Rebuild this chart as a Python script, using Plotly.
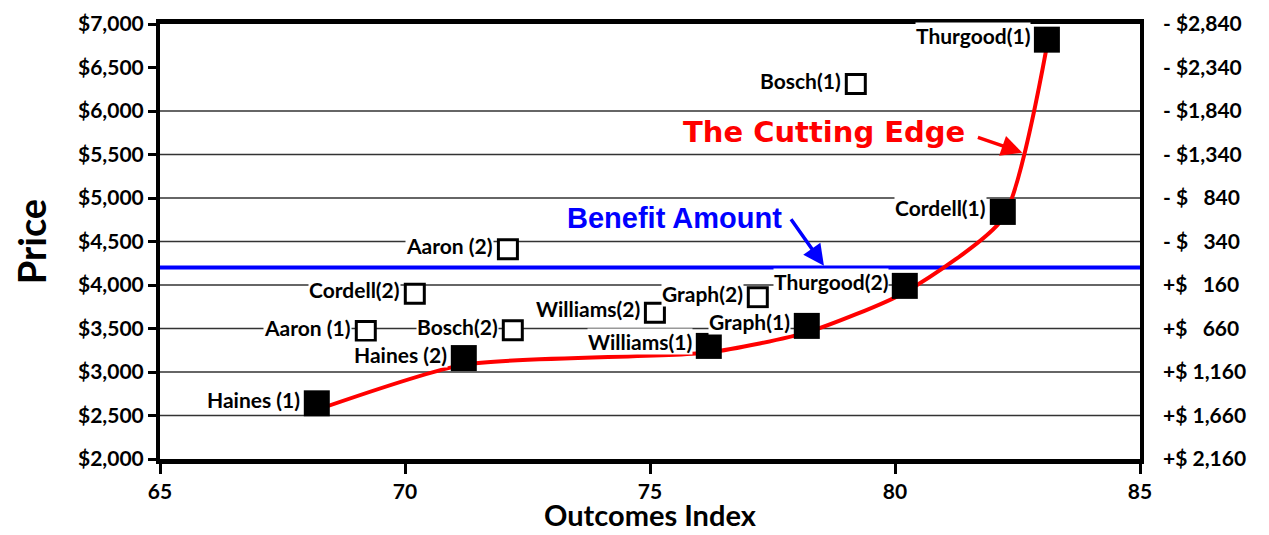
import plotly.graph_objects as go

# ---- data ----
filled_names = ["Haines (1)", "Haines (2)", "Williams(1)", "Graph(1)", "Thurgood(2)", "Cordell(1)", "Thurgood(1)"]
filled_x = [68.2, 71.2, 76.2, 78.2, 80.2, 82.2, 83.1]
filled_y = [2640, 3160, 3300, 3530, 3990, 4840, 6820]

open_names = ["Aaron (1)", "Cordell(2)", "Aaron (2)", "Bosch(2)", "Williams(2)", "Graph(2)", "Bosch(1)"]
open_x = [69.2, 70.2, 72.1, 72.2, 75.1, 77.2, 79.2]
open_y = [3470, 3900, 4410, 3480, 3680, 3860, 6310]

benefit_amount = 4200
left_ticks = [2000, 2500, 3000, 3500, 4000, 4500, 5000, 5500, 6000, 6500, 7000]
left_tick_text = ["$2,000", "$2,500", "$3,000", "$3,500", "$4,000", "$4,500",
                  "$5,000", "$5,500", "$6,000", "$6,500", "$7,000"]
right_tick_text = ["+$\u00a02,160", "+$\u00a01,660", "+$\u00a01,160", "+$\u00a0\u00a0\u00a0660", "+$\u00a0\u00a0\u00a0160",
                   "-\u00a0$\u00a0\u00a0\u00a0340", "-\u00a0$\u00a0\u00a0\u00a0840", "-\u00a0$1,340", "-\u00a0$1,840",
                   "-\u00a0$2,340", "-\u00a0$2,840"]
grid_values = [2500, 3000, 3500, 4000, 4500, 5000, 5500, 6000]
x_ticks = [65, 70, 75, 80, 85]

Y_RANGE = [2000, 7000]
# style: the hand-drawn red curve sits slightly below the marker centres;
# it is drawn on a hidden overlaying axis whose range is nudged by this amount
CURVE_NUDGE = 75

LABEL_FONT = dict(family="Lato", size=21, color="black", weight="bold")
TICK_FONT = dict(family="Lato", size=21, color="black", weight="bold")

fig = go.Figure()

# benefit line
fig.add_trace(go.Scatter(x=[65, 85], y=[benefit_amount, benefit_amount], mode="lines",
                         line=dict(color="#0000ff", width=4), hoverinfo="skip", showlegend=False))
# right axis dummy
fig.add_trace(go.Scatter(x=[65], y=[2000], yaxis="y2", mode="markers",
                         marker=dict(opacity=0), hoverinfo="skip", showlegend=False))
# red "cutting edge" curve
fig.add_trace(go.Scatter(x=filled_x, y=filled_y, mode="lines", yaxis="y3",
                         line=dict(color="#ff0000", width=4, shape="spline", smoothing=0.6),
                         hoverinfo="skip", showlegend=False))
# open markers (top layer)
fig.add_trace(go.Scatter(x=open_x, y=open_y, mode="markers", text=open_names, yaxis="y4",
                         marker=dict(symbol="square", size=19, color="white",
                                     line=dict(color="black", width=3)),
                         showlegend=False, cliponaxis=False))
# filled markers (top layer)
fig.add_trace(go.Scatter(x=filled_x, y=filled_y, mode="markers", text=filled_names, yaxis="y4",
                         marker=dict(symbol="square", size=26, color="black",
                                     line=dict(color="black", width=0)),
                         showlegend=False, cliponaxis=False))

# grid lines
for g in grid_values:
    fig.add_shape(type="line", xref="paper", x0=0, x1=1, yref="y", y0=g, y1=g,
                  line=dict(color="#333333", width=1.5), layer="below")

# point labels
for names, xs, ys, shift in [(filled_names, filled_x, filled_y, -16), (open_names, open_x, open_y, -14)]:
    for n, x, y in zip(names, xs, ys):
        fig.add_annotation(x=x, y=y, text=n, showarrow=False, xanchor="right", yanchor="middle",
                           xshift=shift, yshift=4, font=LABEL_FONT, bgcolor="white", borderpad=0)

# callouts
fig.add_annotation(x=75.5, y=4770, text="<b>Benefit Amount</b>", showarrow=False,
                   font=dict(family="Liberation Sans", size=29, color="#0000ff"))
fig.add_annotation(x=78.55, y=4220, text="", showarrow=True, arrowhead=2, arrowsize=1.2,
                   arrowwidth=3.5, arrowcolor="#0000ff", ax=-34, ay=-48)
fig.add_annotation(x=78.55, y=5760, text="<b>The Cutting Edge</b>", showarrow=False,
                   font=dict(family="DejaVu Sans", size=29, color="#ff0000"))
fig.add_annotation(x=82.6, y=5520, text="", showarrow=True, arrowhead=2, arrowsize=1.2,
                   arrowwidth=3.5, arrowcolor="#ff0000", ax=-46, ay=-16)

# x-axis title (placed as annotation so it can sit close to the bottom edge)
fig.add_annotation(x=0.5, xref="paper", y=0, yref="paper", yanchor="middle", yshift=-55,
                   text="Outcomes Index", showarrow=False,
                   font=dict(family="Lato", size=29, color="black", weight="bold"))

fig.update_layout(
    width=1253, height=519,
    margin=dict(l=152, r=121, t=16, b=68),
    plot_bgcolor="white", paper_bgcolor="white",
    xaxis=dict(range=[65, 85], tickvals=x_ticks, showgrid=False, zeroline=False,
               showline=True, linecolor="black", linewidth=5, mirror=True,
               ticks="outside", ticklen=10, tickwidth=3, tickcolor="black",
               tickfont=TICK_FONT, automargin=False),
    yaxis=dict(range=Y_RANGE, tickvals=left_ticks, ticktext=left_tick_text,
               showgrid=False, zeroline=False,
               showline=True, linecolor="black", linewidth=4, mirror=True,
               ticks="outside", ticklen=8, tickwidth=3, tickcolor="black",
               tickfont=TICK_FONT, automargin=False,
               title=dict(text="Price", font=dict(family="Lato", size=38, color="black", weight="bold"),
                          standoff=26)),
    yaxis2=dict(range=Y_RANGE, overlaying="y", side="right", tickvals=left_ticks,
                ticktext=right_tick_text, showgrid=False, zeroline=False, showline=False,
                ticks="", tickfont=TICK_FONT, ticklabelstandoff=22, automargin=False),
    yaxis3=dict(range=[Y_RANGE[0] + CURVE_NUDGE, Y_RANGE[1] + CURVE_NUDGE], overlaying="y",
                visible=False),
    yaxis4=dict(range=Y_RANGE, overlaying="y", visible=False),
)

fig.write_html("out.html")
